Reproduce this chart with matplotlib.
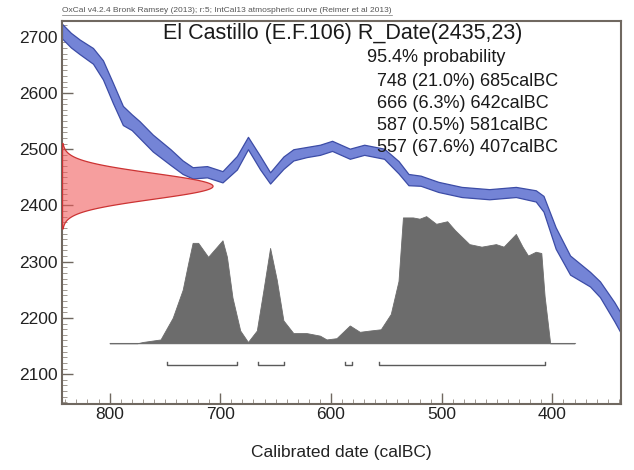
import numpy as np
import matplotlib
matplotlib.use("Agg")
import matplotlib.pyplot as plt
from matplotlib.ticker import MultipleLocator
from matplotlib.lines import Line2D

# ---------------- data ----------------
# IntCal13 curve (calBC, 14C BP, 1-sigma half width)
curve_year = [843, 835, 827, 815, 806, 797, 788, 780, 773, 761, 745, 734, 725, 712, 698,
              685, 675, 664, 655, 643, 634, 622, 610, 599, 583, 570, 552, 539, 530,
              519, 503, 482, 457, 433, 415, 408, 397, 384, 366, 357, 344, 335]
curve_bp = [2710, 2694, 2682, 2666, 2641, 2600, 2560, 2548, 2535, 2511, 2486, 2468, 2458, 2460, 2451,
            2476, 2511, 2476, 2449, 2476, 2490, 2495, 2499, 2506, 2492, 2499, 2492, 2468, 2446,
            2444, 2433, 2424, 2420, 2424, 2417, 2403, 2342, 2294, 2269, 2251, 2211, 2180]
curve_err = [13, 13, 13, 14, 17, 18, 17, 14, 15, 15, 14, 12, 10, 10, 10,
             12, 11, 12, 10, 11, 10, 9, 9, 9, 9, 9, 9, 11, 10,
             9, 9, 9, 9, 9, 10, 14, 19, 17, 13, 14, 17, 18]

# calibrated probability distribution (relative height)
prob_year = [800, 775, 770, 754, 743, 734, 729, 725, 720, 711, 703, 698, 694, 689, 682,
             675, 667, 661, 655, 649, 643, 634, 622, 610, 604, 595, 583, 574, 565, 555,
             546, 539, 535, 526, 520, 514, 505, 495, 488, 475, 464, 451, 444, 433, 427,
             422, 415, 410, 407, 402, 380]
prob_rel = [0.0, 0.0, 0.01, 0.03, 0.20, 0.42, 0.63, 0.79, 0.79, 0.68, 0.76, 0.81, 0.68, 0.36, 0.10,
            0.01, 0.10, 0.42, 0.75, 0.50, 0.18, 0.08, 0.08, 0.06, 0.03, 0.04, 0.14, 0.09, 0.10, 0.11,
            0.23, 0.49, 0.99, 0.99, 0.98, 1.0, 0.94, 0.96, 0.89, 0.78, 0.76, 0.78, 0.76, 0.86, 0.76,
            0.69, 0.72, 0.71, 0.37, 0.0, 0.0]

# 95.4% ranges
range_start = [748, 666, 587, 557]
range_end = [685, 642, 581, 407]
range_pct = [21.0, 6.3, 0.5, 67.6]

# radiocarbon measurement
date_mean = 2435
date_sd = 23
sample_name = "El Castillo (E.F.106)"

x_ticks = [800, 700, 600, 500, 400]
y_ticks = [2100, 2200, 2300, 2400, 2500, 2600, 2700]

# ---------------- figure ----------------
plt.rcParams['font.family'] = ['Liberation Sans', 'DejaVu Sans']
W, H = 634, 470
fig = plt.figure(figsize=(W / 100, H / 100), dpi=100)
L, R, T, B = 62, 621, 21, 404
ax = fig.add_axes([L / W, (H - B) / H, (R - L) / W, (B - T) / H])
xmax, xmin = 843, 338
ymin, ymax = 2047, 2728
ax.set_xlim(xmax, xmin)
ax.set_ylim(ymin, ymax)

cy = np.array(curve_year, float)
cb = np.array(curve_bp, float)
ce = np.array(curve_err, float)
ax.fill_between(cy, cb - ce, cb + ce, facecolor='#7484d6', edgecolor='#3c4ca6',
                linewidth=0.9, zorder=2)

# radiocarbon date normal distribution on y-axis
ys = np.linspace(date_mean - 3.3 * date_sd, date_mean + 3.3 * date_sd, 300)
dens = np.exp(-0.5 * ((ys - date_mean) / date_sd) ** 2)
ax.fill_betweenx(ys, xmax, xmax - 136 * dens, facecolor=(0.94, 0.35, 0.35, 0.58),
                 edgecolor='#cc3333', linewidth=0.9, zorder=3)

# calibrated distribution
base = 2155
scale = 226
py = np.array(prob_year, float)
ph = np.array(prob_rel, float)
ax.plot([prob_year[0], prob_year[-1]], [base, base], color='#9a9a9a', lw=0.8, zorder=3)
ax.fill_between(py, base, base + ph * scale, facecolor='#6c6c6c', edgecolor='#6c6c6c',
                linewidth=0.6, zorder=4)

# range brackets
by = 2116
tick_h = 6
for s, e in zip(range_start, range_end):
    ax.plot([s, s, e, e], [by + tick_h, by, by, by + tick_h], color='#5a5a5a', lw=1.0, zorder=4)

# axes styling
for sp in ax.spines.values():
    sp.set_color('#706860')
    sp.set_linewidth(1.5)
ax.set_xticks(x_ticks)
ax.set_yticks(y_ticks)
ax.xaxis.set_minor_locator(MultipleLocator(10))
ax.yaxis.set_minor_locator(MultipleLocator(10))
ax.tick_params(axis='both', which='major', direction='in', length=8, width=1.0,
               color='#706860', labelsize=12.5, labelcolor='#222222')
ax.tick_params(axis='both', which='minor', direction='in', length=3.5, width=0.6,
               color='#908880')
ax.tick_params(axis='y', pad=3)
ax.tick_params(axis='x', pad=2)
ax.tick_params(top=False, right=False, which='both')
ax.set_xlabel("Calibrated date (calBC)", fontsize=12.5, color='#222222', labelpad=17)

# texts
fig.text(343 / W, 1 - 33 / H, f"{sample_name} R_Date({date_mean},{date_sd})",
         fontsize=15.5, ha='center', va='center', color='#1a1a1a')
fig.text(367 / W, 1 - 58 / H, "95.4% probability", fontsize=13, ha='left', va='center',
         color='#1a1a1a')
row_y = [81, 103, 126, 148]
for s, e, p, yy in zip(range_start, range_end, range_pct, row_y):
    fig.text(377 / W, 1 - yy / H, f"{s} ({p:.1f}%) {e}calBC", fontsize=13, ha='left',
             va='center', color='#1a1a1a')

note = fig.text(62 / W, 1 - 11 / H,
                "OxCal v4.2.4 Bronk Ramsey (2013); r:5; IntCal13 atmospheric curve (Reimer et al 2013)",
                fontsize=6, ha='left', va='center', color='#555555')
fig.canvas.draw()
bb = note.get_window_extent()
fig.add_artist(Line2D([bb.x0 / W, bb.x1 / W], [(bb.y0 - 0.5) / H, (bb.y0 - 0.5) / H],
                      transform=fig.transFigure, color='#777777', lw=0.5))

fig.savefig("out.png", dpi=100)
